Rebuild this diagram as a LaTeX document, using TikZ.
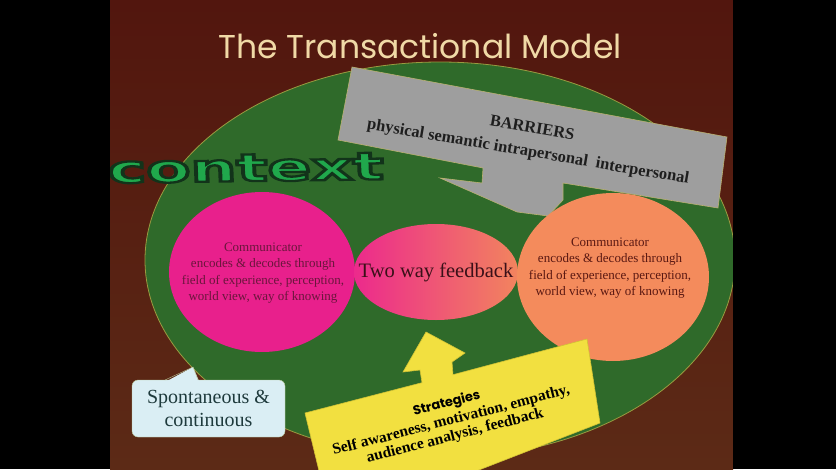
\documentclass[tikz,border=0pt]{standalone}
\usepackage{fontspec}
\setmainfont{Liberation Serif}
\newfontfamily\titlefont{Poppins}
\newfontfamily\ctxoutline[FakeBold=6]{DejaVu Sans Bold}
\usetikzlibrary{shapes.geometric}
\definecolor{bgtop}{HTML}{52160E}
\definecolor{bgbot}{HTML}{5C2A16}
\definecolor{ovgreen}{HTML}{2F6A2A}
\definecolor{ovline}{HTML}{9A9A40}
\definecolor{calgray}{HTML}{9E9E9E}
\definecolor{calline}{HTML}{B8B070}
\definecolor{graytext}{HTML}{1E1E1E}
\definecolor{pinkc}{HTML}{E8208C}
\definecolor{orangec}{HTML}{F48B5C}
\definecolor{midpink}{HTML}{EC2A8C}
\definecolor{midmid}{HTML}{F0557A}
\definecolor{midor}{HTML}{F2845E}
\definecolor{pinktext}{HTML}{6A163C}
\definecolor{ortext}{HTML}{5A1812}
\definecolor{fbtext}{HTML}{3A1018}
\definecolor{ctxgreen}{HTML}{20A84C}
\definecolor{bluefill}{HTML}{DAEEF4}
\definecolor{blueline}{HTML}{B8C89A}
\definecolor{bluetext}{HTML}{1E3A3C}
\definecolor{yellowc}{HTML}{F2E040}
\definecolor{yellowline}{HTML}{D2C234}
\definecolor{titlec}{HTML}{F0D9A6}
\tikzset{
  ctxword/.style={font=\ctxoutline\fontsize{38}{38}\selectfont, anchor=base west, inner sep=0pt, xscale=1.7, rotate=1.3},
  commtext/.style={align=center, font=\fontsize{13}{16.5}\selectfont, inner sep=0pt},
  blob/.style={ellipse, inner sep=0pt},
  bartext/.style={align=center, font=\bfseries\fontsize{16.5}{23.5}\selectfont, text=graytext, rotate=-9.7, inner sep=0pt},
  strattext/.style={align=center, rotate=14.5, inner sep=0pt, text=black}
}
\begin{document}
\begin{tikzpicture}[x=1pt,y=-1pt]
\useasboundingbox (0,0) rectangle (836,469);
% slide background
\shade[top color=bgtop, bottom color=bgbot] (110,0) rectangle (733,469);
% title
\node[font=\titlefont\fontsize{33}{33}\selectfont, text=titlec, anchor=base, inner sep=0pt] (title) at (420,58) {The Transactional Model};
% context oval
\node[blob, draw=ovline, line width=0.8pt, fill=ovgreen, minimum width=590pt, minimum height=396pt] (oval) at (440,260) {};
% barriers callout
\draw[fill=calgray, draw=calline, line width=0.6pt] (352,67) -- (727,137) -- (718,208) -- (563,183) -- (563,200) -- (548,216) -- (517,212) -- (440,178) -- (482,183) -- (483,168) -- (338,140) -- cycle;
\node[bartext] (bar) at (530,141) {BARRIERS\\physical semantic intrapersonal\ \ interpersonal};
% context word (fill green, dark stroke from fake bold)
\node[ctxword, text=ctxgreen] (ctx) at (108,183) {\special{pdf:literal direct 0.071 0.2 0.102 RG}context};
% communicators and feedback
\node[blob, fill=pinkc, minimum width=186pt, minimum height=160pt] (left) at (262,272) {};
\node[commtext, text=pinktext] (lefttext) at (263,273) {Communicator\\encodes \& decodes through\\field of experience, perception,\\world view, way of knowing};
\node[blob, left color=midpink, middle color=midmid, right color=midor, minimum width=164pt, minimum height=96pt] (fb) at (436,272) {};
\node[font=\fontsize{20.5}{23}\selectfont, text=fbtext, inner sep=0pt] (fbtext) at (436,272) {Two way feedback};
\node[blob, fill=orangec, minimum width=192pt, minimum height=168pt] (right) at (613,277) {};
\node[commtext, text=ortext] (righttext) at (610,268) {Communicator\\encodes \& decodes through\\field of experience, perception,\\world view, way of knowing};
% spontaneous box
\node[draw=blueline, fill=bluefill, rounded corners=6pt, minimum width=153pt, minimum height=57pt, align=center, font=\fontsize{20}{23}\selectfont, text=bluetext] (spont) at (208.5,408.5) {Spontaneous \&\\continuous};
\coordinate (ptip) at (193,367);
\fill[bluefill] (167,381) -- (ptip) -- (199,381) -- cycle;
\draw[blueline] (165,380) -- (ptip) -- (198,380);
% strategies box with arrow
\draw[fill=yellowc, draw=yellowline, line width=0.6pt] (305,413) -- (422,382.7) -- (420,370) -- (403,372) -- (426,332) -- (465,353) -- (452,362) -- (453,374.7) -- (587,339) -- (600,423) -- (466,475) -- (320,475) -- cycle;
\node[strattext, font=\bfseries\fontsize{15.5}{16}\selectfont] (strat) at (451,420) {{\titlefont\fontsize{13}{15}\selectfont Strategies}\\[2pt]Self awareness, motivation, empathy,\\audience analysis, feedback};
% black side bands
\fill[black] (0,0) rectangle (110,469);
\fill[black] (733,0) rectangle (836,469);
\end{tikzpicture}
\end{document}
